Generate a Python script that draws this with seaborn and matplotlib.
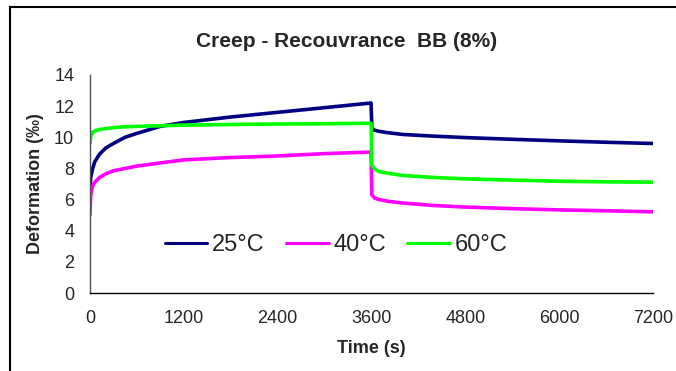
import numpy as np
import pandas as pd
import matplotlib
matplotlib.use('Agg')
import matplotlib.pyplot as plt
import seaborn as sns

# ── Data ──────────────────────────────────────────────────────────────────
time_s = [0, 10, 30, 60, 120, 200, 300, 450, 600, 900, 1200, 1800, 2400,
          3000, 3595, 3605, 3640, 3700, 3800, 4000, 4400, 4800, 5400, 6000,
          6600, 7200]
d25 = [6.8, 7.4, 7.9, 8.4, 8.9, 9.3, 9.6, 10.0, 10.25, 10.7, 10.95, 11.3,
       11.6, 11.9, 12.2, 10.55, 10.45, 10.38, 10.3, 10.18, 10.07, 9.98, 9.87,
       9.77, 9.68, 9.6]
d40 = [5.0, 6.3, 6.8, 7.1, 7.4, 7.65, 7.85, 8.0, 8.15, 8.35, 8.55, 8.7,
       8.8, 8.95, 9.05, 6.3, 6.1, 6.0, 5.9, 5.78, 5.62, 5.52, 5.42, 5.34,
       5.28, 5.22]
d60 = [9.6, 10.0, 10.3, 10.4, 10.5, 10.55, 10.62, 10.67, 10.7, 10.74, 10.78,
       10.82, 10.85, 10.87, 10.9, 8.2, 7.95, 7.8, 7.7, 7.55, 7.42, 7.33, 7.25,
       7.18, 7.14, 7.12]
series_names = ['25°C', '40°C', '60°C']
series_colors = ['#000080', '#FF00FF', '#00FF00']

df = pd.DataFrame({
    'time': time_s * 3,
    'deformation': d25 + d40 + d60,
    'temp': np.repeat(series_names, len(time_s)),
})

# ── Plot ──────────────────────────────────────────────────────────────────
sns.set_style('white')
plt.rcParams['font.family'] = ['Liberation Sans', 'DejaVu Sans']

fig = plt.figure(figsize=(6.76, 3.71), dpi=100)
ax = fig.add_axes([0.133, 0.210, 0.833, 0.588])

sns.lineplot(data=df, x='time', y='deformation', hue='temp',
             palette=dict(zip(series_names, series_colors)),
             estimator=None, sort=False, linewidth=2.6, ax=ax)

ax.set_xlim(0, 7200)
ax.set_ylim(0, 14)
ax.set_xticks(range(0, 7201, 1200))
ax.set_yticks(range(0, 15, 2))
ax.tick_params(axis='both', labelsize=13, length=4.3, width=1,
               color='#505050', direction='out')
ax.tick_params(axis='y', pad=7)
ax.tick_params(axis='x', pad=8)
for s in ['top', 'right']:
    ax.spines[s].set_visible(False)
ax.spines['left'].set_color('#505050')
ax.spines['bottom'].set_color('black')
for s in ['left', 'bottom']:
    ax.spines[s].set_linewidth(1)

ax.set_xlabel('Time (s)', fontsize=13, fontweight='bold', labelpad=9)
ax.set_ylabel('Deformation (‰)', fontsize=13, fontweight='bold', labelpad=7)
fig.text(0.512, 0.887, 'Creep - Recouvrance  BB (8%)', ha='center',
         va='center', fontsize=15, fontweight='bold')

leg = ax.legend(loc='center', bbox_to_anchor=(0.437, 0.22), ncol=3,
                frameon=False, fontsize=17, handlelength=1.8,
                handletextpad=0.2, columnspacing=0.9, borderaxespad=0)
for line in leg.get_lines():
    line.set_linewidth(2.2)

# outer frame (left and top edges visible as in the reference)
fig.patches.append(plt.Rectangle((10 / 676, -0.1), 1.2, 1 - 7 / 371 + 0.1,
                                 transform=fig.transFigure, fill=False,
                                 edgecolor='black', linewidth=1.5))

fig.savefig('out.png', dpi=100)
